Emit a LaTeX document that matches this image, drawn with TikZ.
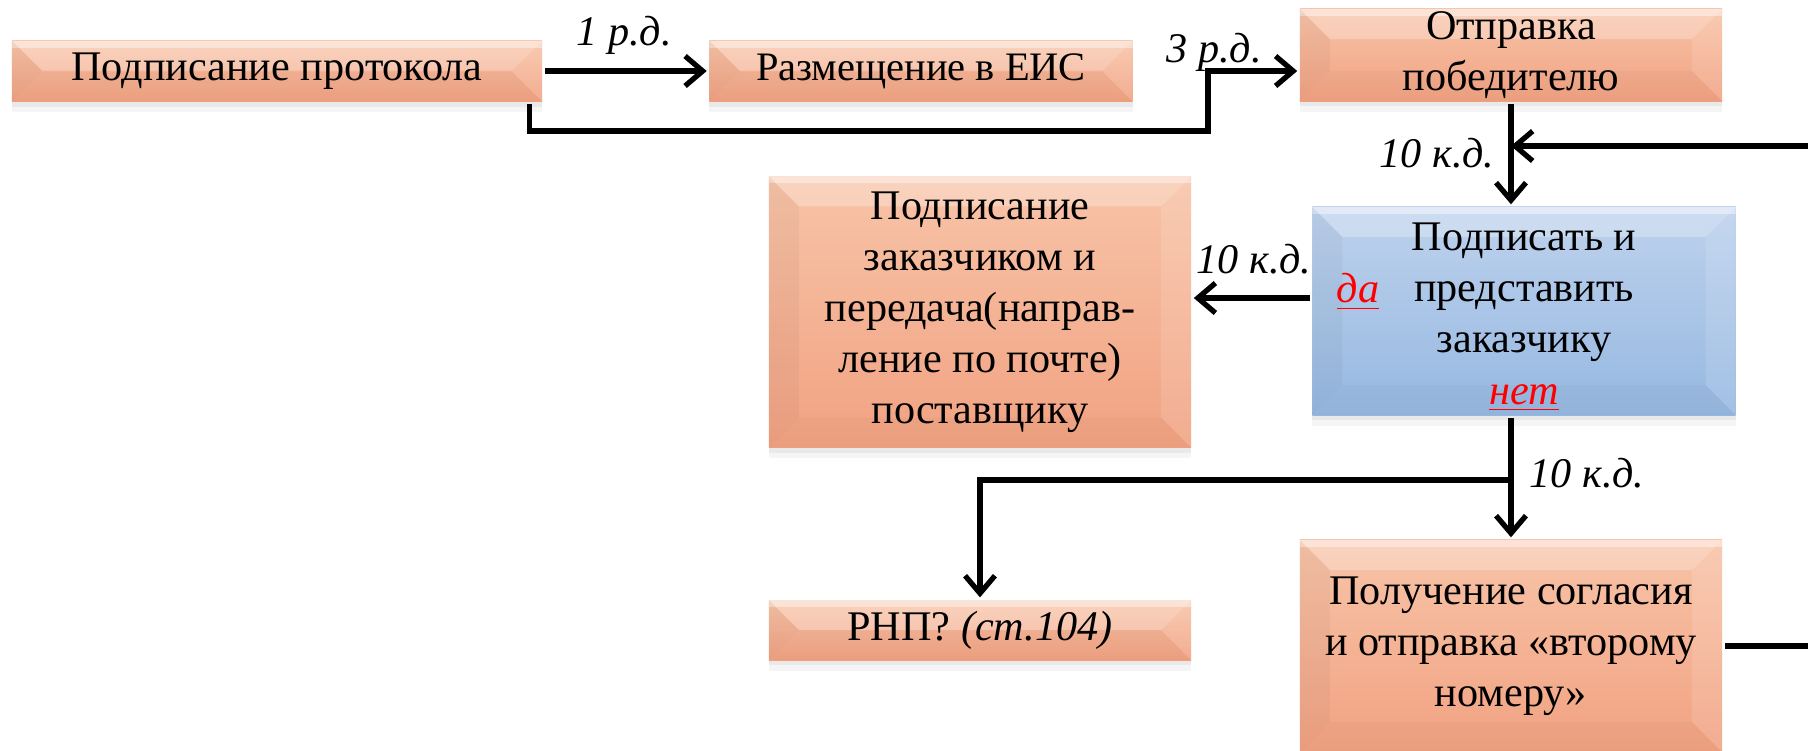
\documentclass[tikz,border=0pt]{standalone}
\usepackage{fontspec}
\setmainfont{Liberation Serif}
\usetikzlibrary{arrows.meta, positioning, shadows}

\definecolor{peachtop}{RGB}{248,196,168}
\definecolor{peachbot}{RGB}{241,162,130}
\definecolor{skytop}{RGB}{190,210,237}
\definecolor{skybot}{RGB}{150,184,225}

\begin{document}
\begin{tikzpicture}[x=0.01cm, y=-0.01cm, line width=1.5pt,
  >={Straight Barb[length=5pt,width=8.5pt]},
  bevel/.style={path picture={
    \fill[white, opacity=0.25] (path picture bounding box.north west) -- (path picture bounding box.north east)
      -- ([shift={(-0.3cm,-0.3cm)}]path picture bounding box.north east) -- ([shift={(0.3cm,-0.3cm)}]path picture bounding box.north west) -- cycle;
    \fill[white, opacity=0.4] (path picture bounding box.north west) rectangle ([yshift=-0.07cm]path picture bounding box.north east);
    \fill[black, opacity=0.035] (path picture bounding box.north west) -- ([shift={(0.3cm,-0.3cm)}]path picture bounding box.north west)
      -- ([shift={(0.3cm,0.3cm)}]path picture bounding box.south west) -- (path picture bounding box.south west) -- cycle;
    \fill[white, opacity=0.12] (path picture bounding box.north east) -- ([shift={(-0.3cm,-0.3cm)}]path picture bounding box.north east)
      -- ([shift={(-0.3cm,0.3cm)}]path picture bounding box.south east) -- (path picture bounding box.south east) -- cycle;
    \fill[black, opacity=0.025] (path picture bounding box.south west) -- ([shift={(0.3cm,0.3cm)}]path picture bounding box.south west)
      -- ([shift={(-0.3cm,0.3cm)}]path picture bounding box.south east) -- (path picture bounding box.south east) -- cycle;
  }},
  box/.style={align=center, inner sep=0pt, font=\fontsize{12}{14.5}\selectfont,
    top color=peachtop, bottom color=peachbot, bevel,
    drop shadow={opacity=0.08, shadow xshift=0pt, shadow yshift=-3pt},
    drop shadow={opacity=0.1, shadow xshift=0pt, shadow yshift=-1.5pt}},
  bluebox/.style={box, top color=skytop, bottom color=skybot, font=\fontsize{12}{14.6}\selectfont},
  lbl/.style={font=\fontsize{12}{14}\selectfont\itshape},
  redword/.style={font=\fontsize{12}{14}\selectfont\itshape, text=red}]

  \useasboundingbox (0,0) rectangle (1808,750);

  % top row
  \node[box, minimum width=5.3cm, minimum height=0.61cm] (prot) at (277,71) {Подписание протокола};
  \node[box, minimum width=4.23cm, minimum height=0.61cm, font=\fontsize{11.5}{14}\selectfont] (eis) at (921,71) {Размещение в ЕИС};
  \node[box, minimum width=4.22cm, minimum height=0.92cm] (win) at (1511,55) {Отправка\\победителю};

  % middle row
  \node[bluebox, minimum width=4.23cm, minimum height=2.08cm] (sign) at (1524,311)
    {\rule{0pt}{0.4cm}Подписать и\\представить\\заказчику\\{\color{red}\itshape\underline{нет}}};
  \node[redword] (yes) at (1358,292) {\underline{да}};
  \node[box, minimum width=4.22cm, minimum height=2.71cm] (give) at (980,312)
    {Подписание\\заказчиком и\\передача(направ-\\ление по почте)\\поставщику};

  % bottom row
  \node[box, minimum width=4.22cm, minimum height=0.6cm] (rnp) at (980,630) {РНП? \textit{(ст.104)}};
  \node[box, minimum width=4.22cm, minimum height=2.12cm] (agree) at (1511,646)
    {Получение согласия\\и отправка «второму\\номеру»};

  % arrows of the top row
  \draw[->] (prot) -- (eis);
  \node[lbl] at (624,35) {1 р.д.};
  \coordinate (bend) at (1208,131);
  \draw[->] ([xshift=-0.15cm]prot.south east) |- (bend) -- (bend |- eis.east) -- (win.west |- eis.east);
  \node[lbl] at (1214,52) {3 р.д.};

  % down to the blue box, and back from the right
  \draw[->] (win.south) -- (win.south |- sign.north);
  \node[lbl] at (1437,153) {10 к.д.};
  \coordinate (back) at (1808,146);
  \draw[->] (back) -- (back -| win.south);

  % yes
  \coordinate (yesend) at ([yshift=0.13cm]sign.west);
  \draw[->] (yesend) -- (yesend -| give.east);
  \node[lbl] at (1254,259) {10 к.д.};

  % no
  \draw[->] (win.south |- sign.south) -- (win.south |- agree.north);
  \coordinate (fork) at (win.south |- 0,480);
  \draw[->] (fork) -| (rnp.north);
  \node[lbl] at (1587,473) {10 к.д.};
  \draw (agree.east) -- (agree.east -| back);

\end{tikzpicture}
\end{document}
